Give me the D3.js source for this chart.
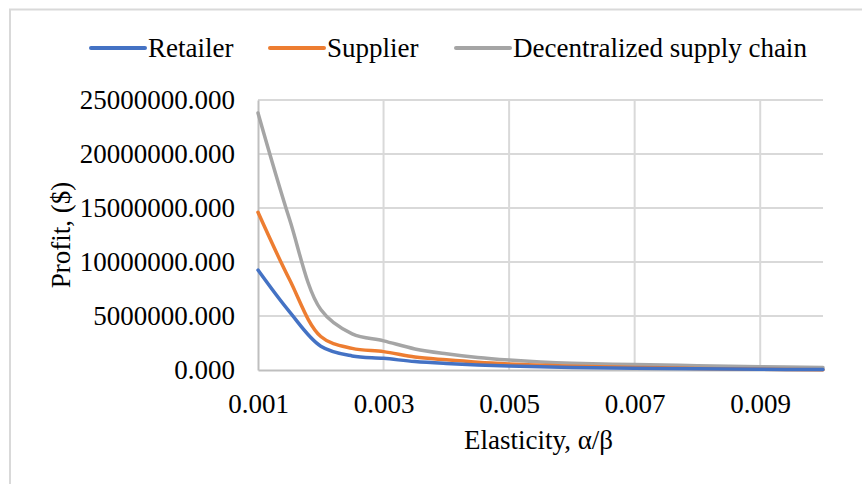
<!DOCTYPE html>
<html>
<head>
<meta charset="utf-8">
<script src="https://cdn.jsdelivr.net/npm/d3@7"></script>
<style>
  html, body { margin: 0; padding: 0; background: #fff; }
  svg { display: block; }
  text { font-family: "Liberation Serif", "Times New Roman", serif; fill: #000; }
</style>
</head>
<body>
<svg id="chart" width="862" height="484"></svg>
<script>
// Profit against price elasticity (α/β)
const elasticity = [0.001, 0.0015, 0.002, 0.0025, 0.003, 0.0035, 0.004, 0.0045,
                    0.005, 0.0055, 0.006, 0.007, 0.008, 0.009, 0.010];
const retailer = [9250000, 5400000, 2200000, 1300000, 1080000, 780000, 600000, 470000,
                  370000, 300000, 240000, 160000, 110000, 70000, 40000];
const supplier = [14600000, 8400000, 3100000, 2000000, 1700000, 1200000, 940000, 720000,
                  560000, 440000, 350000, 240000, 150000, 80000, 20000];
const decentralized = [23800000, 14000000, 5600000, 3350000, 2700000, 1950000, 1500000, 1160000,
                       920000, 740000, 620000, 500000, 400000, 310000, 240000];

const seriesNames = ["Retailer", "Supplier", "Decentralized supply chain"];
const seriesColors = ["#4472C4", "#ED7D31", "#A5A5A5"];
const xTicks = [0.001, 0.003, 0.005, 0.007, 0.009];
const yTicks = [0, 5000000, 10000000, 15000000, 20000000, 25000000];
const xTitle = "Elasticity, α/β";
const yTitle = "Profit, ($)";

const series = [retailer, supplier, decentralized].map((vals, i) => ({
  name: seriesNames[i],
  color: seriesColors[i],
  points: vals.map((v, j) => ({ x: elasticity[j], y: v }))
}));

const svg = d3.select("#chart");
const plot = { left: 258, right: 823, top: 100, bottom: 370 };
const fontSize = 27;

// outer chart frame
svg.append("rect")
  .attr("x", 10).attr("y", 9.5)
  .attr("width", 900).attr("height", 600)
  .attr("fill", "none").attr("stroke", "#d9d9d9").attr("stroke-width", 2);

const x = d3.scaleLinear().domain([0.001, 0.010]).range([plot.left, plot.right]);
const y = d3.scaleLinear().domain([0, 25000000]).range([plot.bottom, plot.top]);

// horizontal gridlines
svg.append("g")
  .selectAll("line").data(yTicks.filter(d => d > 0)).join("line")
  .attr("x1", plot.left).attr("x2", plot.right)
  .attr("y1", d => y(d)).attr("y2", d => y(d))
  .attr("stroke", "#d9d9d9").attr("stroke-width", 2);

// vertical gridlines
svg.append("g")
  .selectAll("line").data(xTicks.filter(d => d > 0.001)).join("line")
  .attr("x1", d => x(d)).attr("x2", d => x(d))
  .attr("y1", plot.top).attr("y2", plot.bottom)
  .attr("stroke", "#d9d9d9").attr("stroke-width", 2);

// axes
const yAxis = d3.axisLeft(y).tickValues(yTicks).tickFormat(d3.format(".3f")).tickSize(0).tickPadding(23);
const yg = svg.append("g").attr("transform", `translate(${plot.left},0)`).call(yAxis);
yg.select(".domain").attr("stroke", "#bfbfbf").attr("stroke-width", 2);
yg.selectAll("text").attr("font-size", fontSize).style("font-family", "Liberation Serif");

const xAxis = d3.axisBottom(x).tickValues(xTicks).tickFormat(d3.format(".3f")).tickSize(0).tickPadding(24);
const xg = svg.append("g").attr("transform", `translate(0,${plot.bottom})`).call(xAxis);
xg.select(".domain").attr("stroke", "#bfbfbf").attr("stroke-width", 2);
xg.selectAll("text").attr("font-size", fontSize).style("font-family", "Liberation Serif");

// series lines (smoothed)
const line = d3.line().x(d => x(d.x)).y(d => y(d.y)).curve(d3.curveCatmullRom.alpha(0.5));
svg.append("g")
  .selectAll("path").data(series.slice().reverse()).join("path")
  .attr("d", d => line(d.points))
  .attr("fill", "none")
  .attr("stroke", d => d.color)
  .attr("stroke-width", 3.5)
  .attr("stroke-linejoin", "round")
  .attr("stroke-linecap", "round");

// axis titles
svg.append("text")
  .attr("x", (plot.left + plot.right) / 2 - 2).attr("y", 449)
  .attr("text-anchor", "middle").attr("font-size", fontSize)
  .text(xTitle);

svg.append("text")
  .attr("transform", `translate(70,${(plot.top + plot.bottom) / 2}) rotate(-90)`)
  .attr("text-anchor", "middle").attr("font-size", fontSize)
  .text(yTitle);

// legend
const legendX = [91, 270, 456];
const lg = svg.append("g").selectAll("g").data(series).join("g")
  .attr("transform", (d, i) => `translate(${legendX[i]},48)`);
lg.append("line")
  .attr("x1", 0).attr("x2", 54).attr("y1", 0).attr("y2", 0)
  .attr("stroke", d => d.color).attr("stroke-width", 4).attr("stroke-linecap", "round");
lg.append("text")
  .attr("x", 57).attr("y", 9).attr("font-size", fontSize)
  .text(d => d.name);
</script>
</body>
</html>
